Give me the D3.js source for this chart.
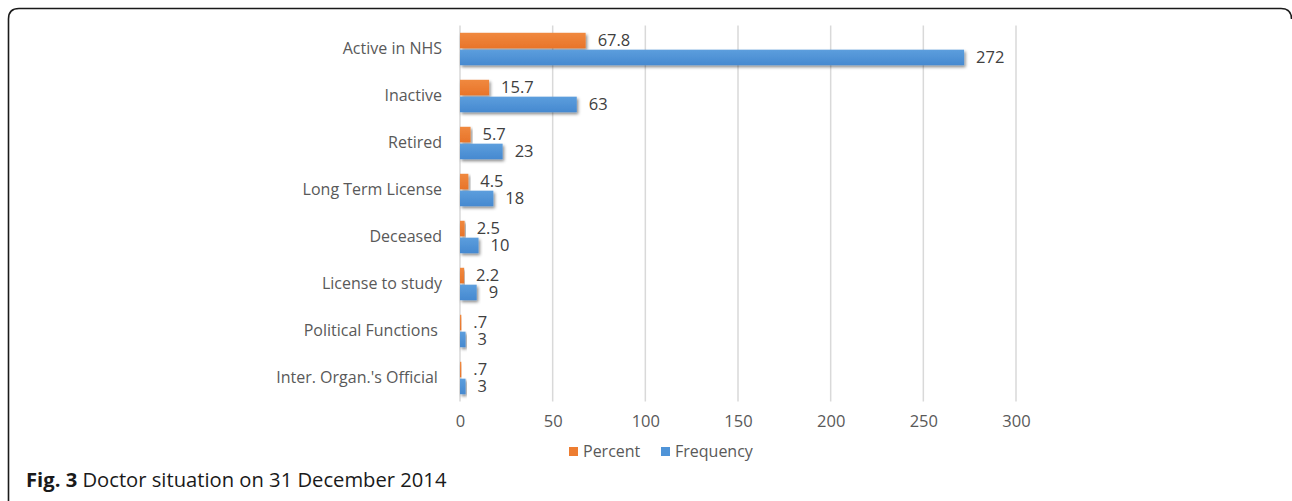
<!DOCTYPE html>
<html>
<head>
<meta charset="utf-8">
<script src="https://cdn.jsdelivr.net/npm/d3@7/dist/d3.min.js"></script>
<style>
  html, body { margin: 0; padding: 0; background: #fff; }
  svg { display: block; }
  text { font-family: "Open Sans", "Noto Sans", sans-serif; }
</style>
</head>
<body>
<svg id="chart" width="1292" height="501"></svg>
<script>
const categories = ["Active in NHS", "Inactive", "Retired", "Long Term License", "Deceased", "License to study", "Political Functions ", "Inter. Organ.'s Official "];
const percentValues = [67.8, 15.7, 5.7, 4.5, 2.5, 2.2, 0.7, 0.7];
const frequencyValues = [272, 63, 23, 18, 10, 9, 3, 3];
const seriesNames = ["Percent", "Frequency"];
const tickValues = [0, 50, 100, 150, 200, 250, 300];
const captionBold = "Fig. 3";
const captionText = " Doctor situation on 31 December 2014";

const colors = { Percent: "#ED7D31", Frequency: "#4F94D8" };
const textColor = "#595959";

const svg = d3.select("#chart");
const defs = svg.append("defs");

const shadow = defs.append("filter").attr("id", "shadow").attr("x", "-10%").attr("y", "-50%").attr("width", "130%").attr("height", "220%");
shadow.append("feDropShadow").attr("dx", 1.5).attr("dy", 2).attr("stdDeviation", 1.6).attr("flood-color", "#000").attr("flood-opacity", 0.45);

function grad(id, c1, c2) {
  const g = defs.append("linearGradient").attr("id", id).attr("x1", 0).attr("y1", 0).attr("x2", 0).attr("y2", 1);
  g.append("stop").attr("offset", "0%").attr("stop-color", c1);
  g.append("stop").attr("offset", "100%").attr("stop-color", c2);
}
grad("gPercent", "#F0893F", "#E8742A");
grad("gFrequency", "#5C9EDD", "#4689D0");

// Frame
svg.append("path")
  .attr("d", "M8.5,501 V19 Q8.5,8.5 19,8.5 H1281 Q1291.5,8.5 1291.5,19")
  .attr("fill", "none").attr("stroke", "#1a1a1a").attr("stroke-width", 1.6);

const x = d3.scaleLinear().domain([0, 300]).range([460, 1016]);
const y = d3.scaleBand().domain(categories).range([25.5, 401.5]).paddingInner(0.31).paddingOuter(0.155);
const ySub = d3.scaleBand().domain(seriesNames).range([0, y.bandwidth()]).paddingInner(0.08);

// Gridlines
svg.append("g")
  .selectAll("line").data(tickValues).join("line")
  .attr("x1", d => x(d)).attr("x2", d => x(d))
  .attr("y1", 25.5).attr("y2", 401.5)
  .attr("stroke", "#d9d9d9").attr("stroke-width", 1.5);

// X axis tick labels
const xAxis = d3.axisBottom(x).tickValues(tickValues).tickSize(0).tickPadding(0);
const gx = svg.append("g").attr("transform", "translate(0,415)").call(xAxis);
gx.select(".domain").remove();
gx.selectAll("text")
  .attr("fill", textColor).attr("font-size", 16.5).attr("dy", "0.71em")
  .style("font-family", "'Open Sans', sans-serif");

// Category labels
const yAxis = d3.axisLeft(y).tickSize(0).tickPadding(0);
const gy = svg.append("g").attr("transform", "translate(442,0)").call(yAxis);
gy.select(".domain").remove();
gy.selectAll("text")
  .attr("fill", textColor).attr("font-size", 16)
  .style("white-space", "pre")
  .style("font-family", "'Open Sans', sans-serif");

// Bars
const rows = categories.map((c, i) => ({ c, Percent: percentValues[i], Frequency: frequencyValues[i] }));
const fmt = v => String(v).replace(/^0\./, ".");

seriesNames.forEach(s => {
  const g = svg.append("g");
  g.selectAll("rect").data(rows).join("rect")
    .attr("x", x(0))
    .attr("y", d => y(d.c) + ySub(s))
    .attr("width", d => x(d[s]) - x(0))
    .attr("height", ySub.bandwidth())
    .attr("fill", `url(#g${s})`)
    .attr("filter", "url(#shadow)");
  g.selectAll("text").data(rows).join("text")
    .attr("x", d => x(d[s]) + 12)
    .attr("y", d => y(d.c) + ySub(s) + ySub.bandwidth() / 2)
    .attr("dy", "0.35em")
    .attr("fill", "#404040").attr("font-size", 16.5)
    .text(d => fmt(d[s]));
});

// Legend
const legend = svg.append("g");
const legendX = [569, 661];
seriesNames.forEach((s, i) => {
  legend.append("rect").attr("x", legendX[i]).attr("y", 447).attr("width", 9).attr("height", 9).attr("fill", colors[s]);
  legend.append("text").attr("x", legendX[i] + 14).attr("y", 451.5).attr("dy", "0.35em")
    .attr("fill", textColor).attr("font-size", 16).text(s);
});

// Caption
const cap = svg.append("text").attr("x", 26).attr("y", 487).attr("font-size", 20.2).attr("fill", "#1a1a1a");
cap.append("tspan").attr("font-weight", "bold").text(captionBold);
cap.append("tspan").style("white-space", "pre").text(captionText);
</script>
</body>
</html>
